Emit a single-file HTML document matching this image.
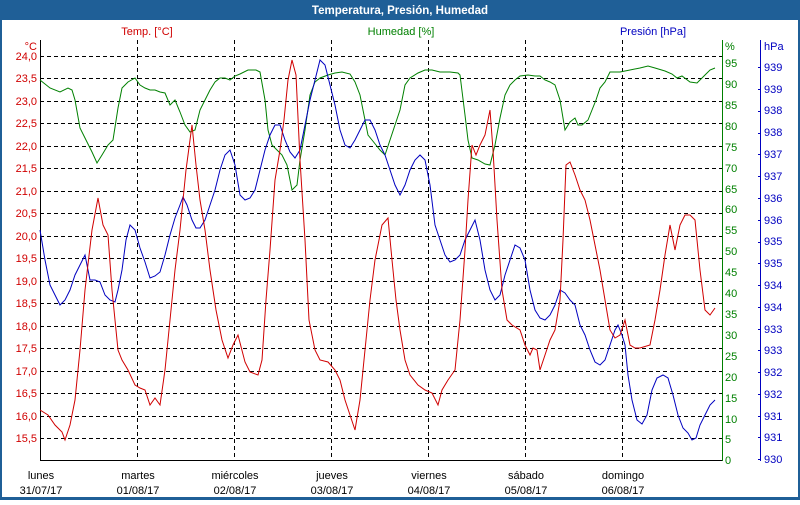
<!DOCTYPE html>
<html><head><meta charset="utf-8"><style>
body{margin:0;background:#fff}
svg text{font-family:"Liberation Sans","DejaVu Sans",sans-serif;font-size:11px}
</style></head><body>
<svg width="800" height="500" viewBox="0 0 800 500" xmlns="http://www.w3.org/2000/svg">
<rect x="0" y="0" width="800" height="500" fill="#1f5f97"/>
<rect x="2" y="20" width="796" height="477" fill="#fff"/>
<text x="400" y="14" fill="#fff" text-anchor="middle" font-weight="bold" style="font-size:11.5px">Temperatura, Presión, Humedad</text>
<text x="147" y="35" fill="#d00000" text-anchor="middle">Temp. [°C]</text>
<text x="401" y="35" fill="#008000" text-anchor="middle">Humedad [%]</text>
<text x="653" y="35" fill="#0000c0" text-anchor="middle">Presión [hPa]</text>
<g stroke="#000" stroke-dasharray="4,3" stroke-width="1">
<path d="M40 56.5H722M40 78.5H722M40 101.5H722M40 123.5H722M40 146.5H722M40 168.5H722M40 191.5H722M40 213.5H722M40 236.5H722M40 258.5H722M40 281.5H722M40 303.5H722M40 326.5H722M40 348.5H722M40 371.5H722M40 393.5H722M40 416.5H722M40 438.5H722"/>
<path d="M137.5 40V460M234.5 40V460M331.5 40V460M428.5 40V460M525.5 40V460M622.5 40V460"/>
</g>
<path d="M40.5 40V460.5H722" fill="none" stroke="#000"/>
<line x1="722.5" y1="40" x2="722.5" y2="461" stroke="#008000"/>
<line x1="760.5" y1="40" x2="760.5" y2="461" stroke="#0000c0"/>
<g fill="#d00000" text-anchor="end">
<text x="37" y="50">°C</text>
<text x="37" y="60">24,0</text><text x="37" y="82">23,5</text><text x="37" y="105">23,0</text><text x="37" y="127">22,5</text><text x="37" y="150">22,0</text><text x="37" y="172">21,5</text><text x="37" y="195">21,0</text><text x="37" y="217">20,5</text><text x="37" y="240">20,0</text><text x="37" y="262">19,5</text><text x="37" y="285">19,0</text><text x="37" y="307">18,5</text><text x="37" y="330">18,0</text><text x="37" y="352">17,5</text><text x="37" y="375">17,0</text><text x="37" y="397">16,5</text><text x="37" y="420">16,0</text><text x="37" y="442">15,5</text>
</g>
<g fill="#008000">
<text x="725" y="50">%</text>
<text x="725" y="67">95</text><text x="725" y="88">90</text><text x="725" y="109">85</text><text x="725" y="130">80</text><text x="725" y="151">75</text><text x="725" y="172">70</text><text x="725" y="193">65</text><text x="725" y="213">60</text><text x="725" y="234">55</text><text x="725" y="255">50</text><text x="725" y="276">45</text><text x="725" y="297">40</text><text x="725" y="318">35</text><text x="725" y="339">30</text><text x="725" y="360">25</text><text x="725" y="381">20</text><text x="725" y="402">15</text><text x="725" y="423">10</text><text x="725" y="443">5</text><text x="725" y="464">0</text>
</g>
<g fill="#0000c0">
<text x="764" y="50">hPa</text>
<text x="764" y="71">939</text><text x="764" y="93">939</text><text x="764" y="114">938</text><text x="764" y="136">938</text><text x="764" y="158">937</text><text x="764" y="180">937</text><text x="764" y="202">936</text><text x="764" y="224">936</text><text x="764" y="245">935</text><text x="764" y="267">935</text><text x="764" y="289">934</text><text x="764" y="311">934</text><text x="764" y="333">933</text><text x="764" y="354">933</text><text x="764" y="376">932</text><text x="764" y="398">932</text><text x="764" y="420">931</text><text x="764" y="441">931</text><text x="764" y="463">930</text>
</g>
<g stroke="#0000c0">
<path d="M758 67.5h3M758 89.5h3M758 111.5h3M758 133.5h3M758 154.5h3M758 176.5h3M758 198.5h3M758 220.5h3M758 242.5h3M758 263.5h3M758 285.5h3M758 307.5h3M758 329.5h3M758 350.5h3M758 372.5h3M758 394.5h3M758 416.5h3M758 437.5h3M758 459.5h3"/>
</g>
<g fill="#000" text-anchor="middle">
<text x="41" y="479">lunes</text><text x="41" y="494">31/07/17</text>
<text x="138" y="479">martes</text><text x="138" y="494">01/08/17</text>
<text x="235" y="479">miércoles</text><text x="235" y="494">02/08/17</text>
<text x="332" y="479">jueves</text><text x="332" y="494">03/08/17</text>
<text x="429" y="479">viernes</text><text x="429" y="494">04/08/17</text>
<text x="526" y="479">sábado</text><text x="526" y="494">05/08/17</text>
<text x="623" y="479">domingo</text><text x="623" y="494">06/08/17</text>
</g>
<polyline fill="none" stroke="#008000" points="40,80 50,88 60,92 68,88 72,90 75,100 80,128 86,140 92,152 97,163 102,155 108,145 113,140 118,108 122,88 128,82 135,78 140,85 145,88 150,90 155,90 160,92 165,93 170,105 175,100 180,112 185,125 190,132 195,130 200,110 205,100 210,90 215,82 220,78 225,78 230,80 235,76 240,74 248,70 256,70 260,72 265,100 268,130 272,145 277,150 282,155 287,165 292,190 297,185 300,160 305,130 310,95 315,82 320,78 328,75 335,73 342,72 350,74 355,82 360,95 365,120 368,135 372,140 376,145 380,150 385,155 390,140 395,125 400,110 405,85 410,78 418,73 425,70 432,70 440,72 450,72 458,73 460,75 465,115 468,140 472,158 478,160 485,164 490,165 495,145 500,118 505,95 510,85 515,80 520,76 528,75 535,76 540,76 545,80 550,82 555,85 560,100 565,130 570,122 575,118 578,125 582,125 588,120 592,110 596,100 600,88 605,82 610,72 620,72 630,70 640,68 648,66 655,68 665,71 672,74 677,78 682,76 690,82 697,83 705,75 710,70 715,68"/>
<polyline fill="none" stroke="#0000c0" points="40,230 45,260 50,285 55,295 60,305 65,300 70,290 75,275 80,265 85,255 90,280 95,280 100,282 105,295 110,300 115,302 118,290 122,270 126,240 130,225 135,230 140,248 145,262 150,278 155,276 160,272 165,255 170,235 175,218 180,205 183,197 187,205 192,220 196,228 200,228 205,220 210,205 215,190 220,170 225,155 230,150 235,165 240,195 245,200 250,198 255,190 260,170 265,150 270,135 275,125 280,125 285,140 290,152 295,158 300,150 305,125 310,100 315,80 320,60 325,65 330,85 335,105 340,130 345,145 350,148 355,140 360,130 365,120 370,120 375,130 380,145 385,155 390,170 395,185 400,195 405,185 410,170 415,160 420,155 425,160 430,185 435,225 440,240 445,255 450,262 455,260 460,255 465,240 470,230 475,220 480,240 485,270 490,290 495,300 500,295 505,275 510,260 515,245 520,248 525,260 530,290 535,310 540,318 545,320 550,315 555,305 560,290 565,293 570,300 575,305 580,325 585,335 590,350 595,362 600,365 605,360 610,345 615,330 618,325 622,335 625,345 628,375 632,400 637,420 642,424 647,415 652,390 657,378 663,375 668,378 673,395 678,415 683,428 688,433 692,440 696,438 700,425 705,415 710,405 715,400"/>
<polyline fill="none" stroke="#d00000" points="40,410 48,415 55,425 62,432 65,440 70,425 75,400 80,350 85,290 92,230 98,198 103,225 108,235 112,290 118,350 122,360 128,370 135,385 140,388 145,390 150,405 155,398 160,405 165,370 170,320 175,270 180,230 186,170 192,125 196,165 200,200 205,230 210,270 216,310 222,340 228,358 233,345 238,335 245,362 250,372 258,375 262,360 266,300 270,250 275,180 280,150 284,120 288,80 292,60 296,75 300,160 305,240 309,320 315,350 320,360 328,362 335,370 340,380 345,400 350,415 355,430 360,400 365,350 370,300 375,260 382,225 388,218 392,260 396,300 400,330 405,360 410,375 418,385 425,390 432,393 438,405 442,390 448,380 455,370 460,320 465,250 468,200 472,145 476,155 480,145 485,135 490,110 493,150 497,220 502,290 507,320 512,325 520,330 525,345 530,355 533,348 537,350 540,370 545,355 550,340 555,330 560,300 563,240 566,165 570,162 575,175 580,190 585,200 590,220 595,245 600,270 605,300 610,330 615,338 620,335 625,320 630,345 635,348 640,348 650,345 655,320 660,290 665,255 670,225 675,250 680,225 685,215 690,215 695,220 700,270 705,310 710,315 715,308"/>
</svg>
</body></html>
